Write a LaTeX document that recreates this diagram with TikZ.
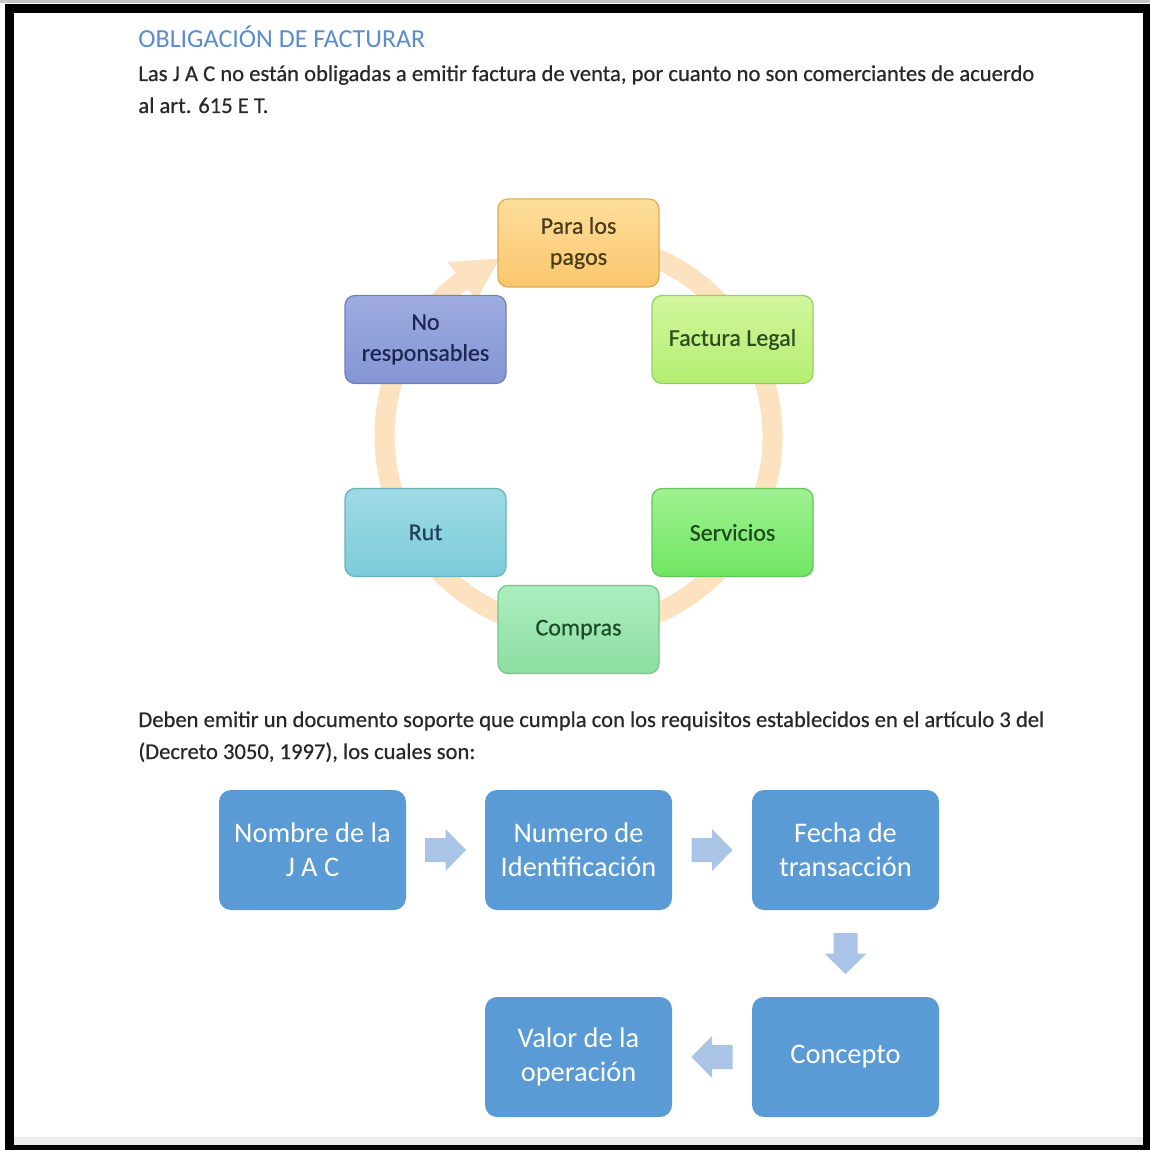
\documentclass[tikz,border=0pt]{standalone}
\usepackage{fontspec}
\setmainfont{Carlito}
\newfontfamily\heavyfont[FakeBold=0.5]{Carlito}
\usetikzlibrary{calc}
\definecolor{bodytext}{RGB}{40,40,40}
\definecolor{titleblue}{RGB}{91,140,205}
\definecolor{ringc}{RGB}{253,226,192}
\definecolor{procblue}{RGB}{91,155,213}
\definecolor{arrowblue}{RGB}{170,196,232}
\definecolor{pagosT}{RGB}{254,222,155}\definecolor{pagosB}{RGB}{250,198,108}\definecolor{pagosD}{RGB}{225,172,85}\definecolor{pagosX}{RGB}{70,60,30}
\definecolor{noT}{RGB}{158,172,224}\definecolor{noB}{RGB}{132,149,212}\definecolor{noD}{RGB}{112,128,190}\definecolor{noX}{RGB}{28,38,80}
\definecolor{facT}{RGB}{210,246,158}\definecolor{facB}{RGB}{180,238,112}\definecolor{facD}{RGB}{150,208,100}\definecolor{facX}{RGB}{45,75,27}
\definecolor{rutT}{RGB}{158,218,228}\definecolor{rutB}{RGB}{124,204,217}\definecolor{rutD}{RGB}{105,178,190}\definecolor{rutX}{RGB}{32,62,88}
\definecolor{serT}{RGB}{160,241,146}\definecolor{serB}{RGB}{112,230,98}\definecolor{serD}{RGB}{98,198,90}\definecolor{serX}{RGB}{28,76,30}
\definecolor{comT}{RGB}{172,238,190}\definecolor{comB}{RGB}{140,222,162}\definecolor{comD}{RGB}{118,198,140}\definecolor{comX}{RGB}{30,74,43}
\begin{document}
\begin{tikzpicture}[x=0.5pt,y=-0.5pt,
  body/.style={anchor=base west,inner sep=0pt,font=\heavyfont\fontsize{11.3}{16}\selectfont,text=bodytext},
  cyc/.style={rounded corners=5pt,minimum width=80.5pt,minimum height=44pt,inner sep=2pt,
    align=center,font=\heavyfont\fontsize{12}{15.5}\selectfont,line width=0.6pt},
  proc/.style={rounded corners=6pt,minimum width=93.5pt,minimum height=60pt,fill=procblue,
    text=white,align=center,font=\fontsize{14.2}{17}\selectfont,inner sep=2pt},
  blockarrow/.style={fill=arrowblue,draw=none},
  ring/.style={draw=ringc,line width=10pt}
]
\useasboundingbox (0,0) rectangle (1150,1150);
\fill[white] (0,0) rectangle (1150,1150);
% frame
\fill[black!22] (0,0) rectangle (1150,3);
\fill[black!8] (14,1137) rectangle (1143,1145);
\fill[black] (5,4) rectangle (1150,13);
\fill[black] (5,4) rectangle (14,1150);
\fill[black] (1143,4) rectangle (1150,1150);
\fill[black] (5,1145) rectangle (1150,1150);

% texts
\node[body,font=\fontsize{13}{16}\selectfont,text=titleblue] (title) at (138,48) {OBLIGACIÓN DE FACTURAR};
\node[body] (p1a) at (138,81) {Las J A C no están obligadas a emitir factura de venta, por cuanto no son comerciantes de acuerdo};
\node[body] (p1b) at (138,113) {al art. 615 E T.};
\node[body] (p2a) at (138,727) {Deben emitir un documento soporte que cumpla con los requisitos establecidos en el artículo 3 del};
\node[body] (p2b) at (138,759) {(Decreto 3050, 1997), los cuales son:};

% ring
\coordinate (cc) at (578.5,436);
\draw[ring] ($(cc)+(-100:194)$) arc[start angle=-100,end angle=234,radius=194];
\fill[ringc] ($(cc)+(-127:170)$) -- ($(cc)+(-114:194)$) -- ($(cc)+(-127:218)$) -- cycle;

% cycle nodes
\node[cyc,draw=pagosD,top color=pagosT,bottom color=pagosB,text=pagosX] (pagos) at (578.5,243) {Para los\\pagos};
\node[cyc,draw=noD,top color=noT,bottom color=noB,text=noX] (nores) at (425.5,339.5) {No\\responsables};
\node[cyc,draw=facD,top color=facT,bottom color=facB,text=facX] (factura) at (732.5,339.5) {Factura Legal};
\node[cyc,draw=rutD,top color=rutT,bottom color=rutB,text=rutX] (rut) at (425.5,532.5) {Rut};
\node[cyc,draw=serD,top color=serT,bottom color=serB,text=serX] (serv) at (732.5,532.5) {Servicios};
\node[cyc,draw=comD,top color=comT,bottom color=comB,text=comX] (compras) at (578.5,629.5) {Compras};

% process nodes
\node[proc] (nombre) at (312.5,850) {Nombre de la\\J A C};
\node[proc] (numero) at (578.5,850) {Numero de\\Identificación};
\node[proc] (fecha) at (845.5,850) {Fecha de\\transacción};
\node[proc] (concepto) at (845.5,1057) {Concepto};
\node[proc] (valor) at (578.5,1057) {Valor de la\\operación};

\coordinate (a1) at ($(nombre.east)!0.5!(numero.west)$);
\coordinate (a2) at ($(numero.east)!0.5!(fecha.west)$);
\coordinate (a3) at ($(fecha.south)!0.5!(concepto.north)$);
\coordinate (a4) at ($(concepto.west)!0.5!(valor.east)$);
\fill[blockarrow,shift={(a1)}] (-20.5,-12) -- (0,-12) -- (0,-21) -- (20.5,0) -- (0,21) -- (0,12) -- (-20.5,12) -- cycle;
\fill[blockarrow,shift={(a2)}] (-20.5,-12) -- (0,-12) -- (0,-21) -- (20.5,0) -- (0,21) -- (0,12) -- (-20.5,12) -- cycle;
\fill[blockarrow,shift={(a3)},rotate=-90] (-20.5,-12) -- (0,-12) -- (0,-21) -- (20.5,0) -- (0,21) -- (0,12) -- (-20.5,12) -- cycle;
\fill[blockarrow,shift={(a4)},rotate=180] (-20.5,-12) -- (0,-12) -- (0,-21) -- (20.5,0) -- (0,21) -- (0,12) -- (-20.5,12) -- cycle;
\end{tikzpicture}
\end{document}
